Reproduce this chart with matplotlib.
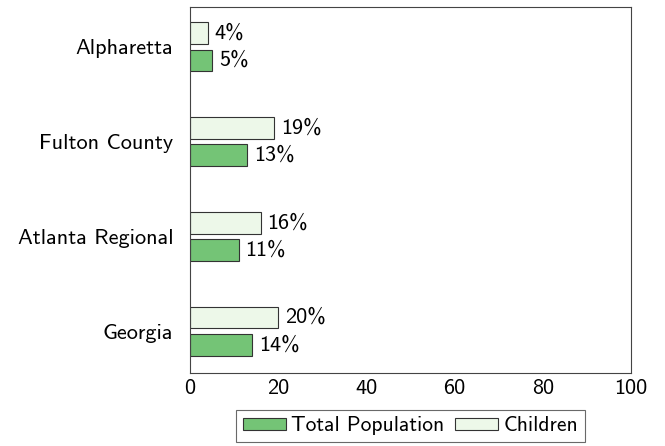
import matplotlib.pyplot as plt
import numpy as np
from matplotlib.patches import Patch

plt.rcParams['font.family'] = ['cmss10', 'DejaVu Sans']
plt.rcParams['axes.unicode_minus'] = False

# share of people in poverty, percent
places = ['Georgia', 'Atlanta Regional', 'Fulton County', 'Alpharetta']
total_pop = [14, 11, 13, 5]
children = [20, 16, 19, 4]
xticks = [0, 20, 40, 60, 80, 100]

green = '#74c476'
pale = '#edf8e9'
edge = '#333333'
fs = 16

fig = plt.figure(figsize=(6.65, 4.46), dpi=100)
ax = fig.add_axes([190/665, 1 - 373/446, 441/665, 366/446])

y = np.arange(len(places))
h = 0.23
off = 0.145
b1 = ax.barh(y - off, total_pop, height=h, color=green, edgecolor=edge, linewidth=0.8)
b2 = ax.barh(y + off, children, height=h, color=pale, edgecolor=edge, linewidth=0.8)

for bars, vals in [(b1, total_pop), (b2, children)]:
    for r, v in zip(bars, vals):
        ax.annotate(f'{v}%', (v, r.get_y() + r.get_height() / 2),
                    xytext=(5, 0), textcoords='offset points',
                    va='center', ha='left', fontsize=fs)

ax.set_xlim(0, 100)
ax.set_ylim(-0.44, 3.42)
ax.set_xticks(xticks)
ax.set_xticklabels([str(t) for t in xticks])
ax.set_yticks(y)
ax.set_yticklabels(places)
ax.tick_params(length=0, labelsize=fs)
ax.tick_params(axis='y', pad=12)
ax.tick_params(axis='x', pad=4)
for s in ax.spines.values():
    s.set_color('#444444')
    s.set_linewidth(0.8)

handles = [Patch(facecolor=green, edgecolor=edge, linewidth=0.8),
           Patch(facecolor=pale, edgecolor=edge, linewidth=0.8)]
leg = ax.legend(handles, ['Total Population', 'Children'], ncol=2,
                loc='upper center', bbox_to_anchor=(0.5, -0.101),
                fontsize=15.5, frameon=True, fancybox=False,
                handlelength=2.0, handleheight=0.5, handletextpad=0.25,
                columnspacing=0.5, borderpad=0.3, borderaxespad=0)
leg.get_frame().set_edgecolor('#444444')
leg.get_frame().set_linewidth(0.8)

fig.savefig('out.png', dpi=100)
